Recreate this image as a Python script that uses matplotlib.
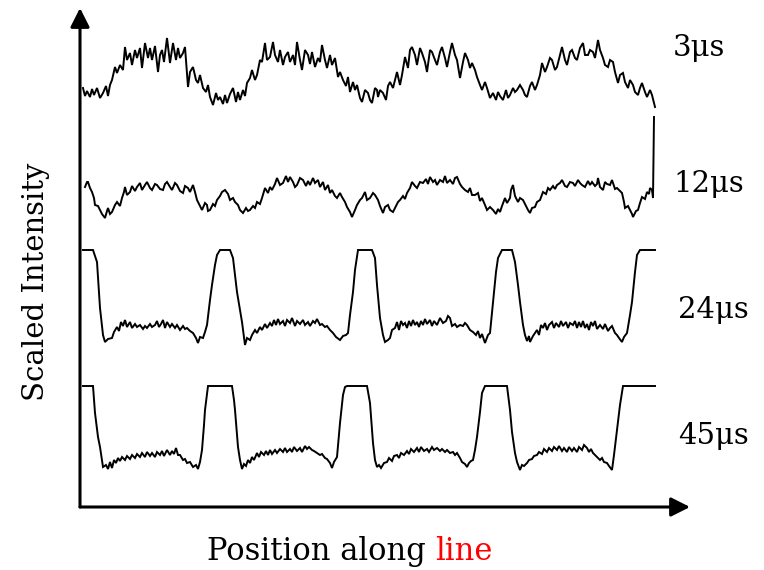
import numpy as np
import matplotlib
matplotlib.use('Agg')
import matplotlib.pyplot as plt
from matplotlib.patches import FancyArrowPatch

# Line profiles for four exposure times.
# position along the line, intensity above each trace's own floor.
labels = ['3μs', '12μs', '24μs', '45μs']

profile_3 = [(83, 22), (85, 14), (87, 19), (90, 13), (92, 21), (94, 15), (97, 22), (100, 12), (103, 17), (106, 24),
             (108, 14), (110, 25), (112, 30), (115, 43), (117, 37), (120, 45), (123, 40), (125, 63), (127, 50), (130, 57),
             (132, 45), (135, 60), (137, 52), (140, 62), (142, 42), (145, 67), (148, 52), (150, 62), (152, 50), (155, 64),
             (158, 38), (160, 55), (162, 60), (164, 48), (167, 72), (170, 47), (173, 67), (176, 50), (178, 62), (180, 52),
             (183, 57), (185, 63), (188, 23), (190, 38), (193, 43), (196, 30), (198, 27), (200, 35), (203, 22), (206, 18),
             (208, 25), (210, 13), (213, 5), (216, 17), (218, 10), (220, 13), (223, 6), (225, 15), (227, 7), (230, 16),
             (233, 22), (236, 8), (238, 18), (240, 10), (243, 20), (245, 14), (247, 27), (250, 32), (252, 40), (255, 30),
             (257, 35), (260, 50), (262, 48), (265, 67), (267, 50), (270, 53), (273, 68), (275, 55), (278, 48), (280, 60),
             (283, 45), (285, 53), (288, 58), (290, 48), (293, 55), (295, 45), (297, 68), (300, 50), (302, 40), (305, 60),
             (308, 55), (310, 46), (312, 58), (315, 43), (318, 52), (320, 48), (322, 65), (325, 50), (327, 42), (330, 55),
             (332, 45), (335, 52), (338, 33), (340, 38), (343, 30), (346, 24), (348, 33), (350, 18), (353, 28), (355, 20),
             (357, 25), (360, 12), (362, 8), (365, 20), (368, 17), (370, 10), (372, 7), (375, 22), (377, 20), (378, 13),
             (380, 20), (383, 17), (386, 10), (388, 24), (390, 28), (393, 22), (395, 30), (397, 38), (400, 25), (402, 35),
             (405, 53), (408, 42), (410, 60), (412, 63), (415, 55), (417, 45), (420, 62), (422, 57), (425, 48), (427, 38),
             (430, 60), (432, 58), (435, 50), (437, 45), (440, 58), (442, 63), (445, 52), (447, 43), (450, 58), (452, 67),
             (455, 55), (457, 50), (460, 32), (463, 48), (465, 57), (468, 50), (470, 42), (472, 47), (475, 40), (477, 33),
             (480, 25), (482, 20), (485, 28), (487, 22), (490, 12), (493, 17), (496, 10), (498, 18), (500, 14), (503, 10),
             (506, 20), (508, 12), (510, 15), (513, 22), (515, 18), (517, 20), (520, 25), (523, 20), (525, 15), (527, 13),
             (530, 24), (532, 28), (535, 20), (537, 25), (540, 35), (542, 47), (545, 38), (547, 43), (550, 52), (552, 50),
             (555, 40), (557, 43), (560, 55), (562, 63), (565, 50), (567, 45), (570, 58), (572, 60), (575, 52), (577, 50),
             (580, 62), (583, 67), (585, 55), (588, 55), (590, 60), (593, 58), (595, 52), (598, 70), (600, 60), (603, 52),
             (605, 45), (608, 43), (610, 50), (613, 48), (615, 38), (618, 27), (620, 35), (623, 37), (625, 28), (628, 22),
             (630, 30), (633, 25), (635, 18), (638, 15), (640, 22), (642, 27), (645, 18), (647, 13), (650, 20), (652, 15),
             (655, 3)]

profile_12 = [(85, 33), (87, 38), (88, 38), (90, 32), (92, 28), (94, 22), (95, 15), (98, 14), (100, 10), (102, 6),
              (105, 2), (107, 9), (108, 12), (110, 6), (112, 8), (115, 15), (117, 18), (120, 14), (122, 22), (124, 28),
              (125, 33), (127, 25), (130, 28), (132, 34), (135, 29), (137, 33), (140, 37), (142, 30), (145, 35), (147, 38),
              (150, 32), (152, 30), (155, 36), (157, 35), (160, 31), (163, 30), (165, 36), (167, 38), (170, 33), (172, 30),
              (175, 37), (177, 35), (180, 29), (183, 27), (185, 34), (188, 32), (190, 28), (193, 35), (195, 28), (197, 20),
              (200, 14), (202, 10), (205, 17), (207, 15), (208, 9), (210, 10), (213, 16), (215, 14), (217, 20), (220, 24),
              (222, 28), (225, 30), (228, 26), (230, 20), (233, 22), (235, 18), (238, 15), (240, 10), (243, 7), (246, 12),
              (248, 9), (250, 10), (253, 14), (255, 12), (257, 18), (260, 16), (262, 22), (265, 32), (268, 27), (270, 33),
              (272, 30), (275, 36), (277, 42), (280, 35), (283, 37), (286, 44), (288, 38), (290, 43), (293, 38), (295, 33),
              (297, 35), (300, 42), (303, 40), (306, 34), (308, 39), (310, 35), (313, 42), (315, 37), (318, 40), (320, 33),
              (323, 38), (325, 30), (328, 35), (330, 27), (332, 30), (335, 24), (337, 22), (340, 27), (342, 23), (345, 18),
              (347, 13), (350, 8), (352, 3), (355, 10), (357, 15), (360, 20), (362, 22), (365, 28), (367, 20), (370, 22),
              (373, 27), (375, 25), (378, 20), (380, 14), (383, 7), (385, 13), (388, 15), (390, 10), (393, 8), (396, 14),
              (398, 18), (400, 20), (403, 24), (405, 21), (407, 27), (410, 32), (412, 38), (415, 34), (417, 32), (420, 38),
              (423, 37), (426, 41), (428, 36), (430, 43), (433, 38), (435, 40), (437, 35), (440, 40), (443, 38), (445, 44),
              (447, 37), (450, 40), (453, 36), (455, 42), (457, 43), (460, 36), (462, 33), (465, 30), (468, 28), (470, 32),
              (472, 25), (475, 25), (478, 27), (480, 19), (482, 22), (485, 15), (487, 10), (490, 13), (493, 10), (496, 6),
              (498, 11), (500, 8), (502, 14), (505, 22), (507, 17), (510, 22), (511, 30), (513, 35), (515, 24), (518, 18),
              (520, 22), (523, 20), (526, 14), (528, 10), (530, 7), (532, 12), (535, 13), (537, 18), (540, 20), (543, 28),
              (546, 26), (548, 32), (550, 30), (553, 34), (555, 31), (557, 35), (560, 37), (562, 40), (565, 34), (567, 33),
              (570, 38), (573, 37), (575, 34), (578, 40), (580, 37), (582, 35), (585, 33), (588, 39), (590, 35), (592, 38),
              (595, 34), (597, 36), (598, 42), (600, 33), (603, 30), (605, 38), (607, 36), (610, 35), (612, 40), (615, 31),
              (617, 32), (620, 29), (622, 27), (624, 18), (625, 12), (628, 14), (630, 10), (632, 6), (633, 3), (636, 9),
              (638, 10), (640, 17), (642, 23), (645, 21), (647, 28), (649, 26), (650, 32), (652, 30), (653, 22), (654, 103)]

pos_24 = [83, 93, 97, 100, 103, 105, 108, 112, 114, 117, 119, 121, 123, 125, 127, 130, 132, 135, 137, 140,
          143, 145, 147, 150, 152, 155, 157, 159, 161, 163, 165, 167, 170, 172, 175, 177, 180, 183, 185, 187,
          190, 193, 196, 198, 200, 203, 205, 207, 210, 212, 215, 217, 220, 230, 233, 237, 240, 242, 245, 247,
          250, 252, 255, 257, 260, 262, 265, 267, 270, 272, 274, 276, 278, 280, 283, 285, 287, 290, 292, 295,
          297, 300, 303, 305, 308, 310, 313, 315, 317, 320, 322, 325, 327, 330, 333, 336, 340, 343, 346, 348,
          350, 353, 355, 358, 372, 375, 377, 380, 383, 385, 388, 390, 392, 395, 397, 399, 401, 403, 405, 407,
          409, 411, 413, 415, 417, 419, 421, 423, 425, 427, 430, 432, 434, 437, 440, 443, 446, 448, 450, 452,
          455, 457, 460, 463, 465, 467, 470, 473, 476, 478, 480, 482, 485, 488, 490, 493, 496, 498, 502, 512,
          515, 518, 520, 523, 525, 527, 529, 530, 533, 535, 537, 539, 541, 543, 545, 547, 549, 552, 554, 556,
          559, 561, 563, 566, 568, 570, 573, 575, 577, 579, 581, 583, 585, 587, 589, 591, 593, 595, 597, 600,
          603, 605, 608, 610, 612, 615, 617, 619, 622, 624, 627, 630, 632, 635, 637, 640, 655]
int_24 = [95, 95, 83, 37, 10, 3, 6, 7, 13, 18, 14, 23, 19, 25, 18, 23, 17, 21, 18, 20,
          16, 19, 17, 21, 18, 20, 24, 18, 21, 25, 17, 23, 18, 21, 17, 20, 15, 19, 16, 17,
          14, 12, 7, 2, 8, 7, 13, 20, 45, 60, 80, 90, 95, 95, 87, 53, 35, 23, 0, 7,
          5, 10, 15, 12, 18, 15, 21, 17, 22, 19, 25, 20, 26, 21, 24, 19, 25, 22, 27, 19,
          24, 21, 25, 20, 23, 19, 24, 22, 26, 20, 21, 18, 19, 15, 12, 8, 5, 9, 10, 12,
          30, 53, 75, 95, 95, 87, 60, 27, 10, 3, 5, 7, 15, 17, 23, 15, 24, 20, 22, 17,
          24, 19, 25, 20, 23, 18, 24, 20, 26, 21, 25, 19, 24, 20, 27, 22, 24, 29, 27, 19,
          21, 18, 20, 19, 22, 20, 15, 13, 10, 14, 7, 11, 2, 10, 12, 43, 73, 87, 95, 95,
          83, 60, 43, 20, 10, 4, 9, 3, 9, 12, 15, 10, 20, 17, 22, 15, 20, 23, 17, 22,
          18, 24, 19, 23, 17, 22, 20, 24, 17, 23, 18, 24, 17, 21, 15, 23, 19, 24, 16, 20,
          16, 21, 14, 17, 19, 12, 10, 7, 3, 8, 12, 30, 43, 73, 90, 95, 95]

pos_45 = [83, 93, 95, 98, 100, 102, 103, 106, 108, 110, 112, 114, 116, 118, 120, 122, 125, 127, 130, 132,
          135, 137, 140, 142, 145, 147, 150, 152, 155, 157, 160, 162, 164, 167, 170, 172, 174, 176, 178, 180,
          183, 185, 187, 190, 193, 196, 198, 200, 202, 204, 205, 208, 232, 234, 235, 238, 240, 242, 244, 246,
          248, 250, 252, 254, 257, 259, 261, 264, 266, 268, 270, 272, 275, 277, 280, 283, 285, 287, 290, 292,
          294, 297, 300, 302, 305, 307, 309, 312, 314, 317, 320, 322, 325, 327, 330, 332, 334, 337, 340, 343,
          345, 347, 367, 370, 372, 373, 375, 377, 379, 381, 384, 387, 389, 392, 394, 397, 399, 401, 404, 407,
          409, 411, 414, 417, 419, 421, 424, 427, 429, 432, 434, 437, 440, 442, 445, 447, 450, 453, 455, 457,
          460, 462, 465, 467, 469, 471, 473, 475, 477, 480, 482, 485, 507, 510, 512, 515, 517, 520, 522, 524,
          527, 529, 532, 534, 537, 539, 542, 544, 547, 549, 552, 554, 557, 559, 562, 564, 567, 569, 572, 574,
          577, 579, 582, 584, 587, 589, 591, 593, 595, 597, 600, 602, 604, 607, 609, 612, 614, 617, 620, 623,
          655]
int_45 = [84, 84, 57, 33, 23, 10, 3, 5, 1, 8, 2, 10, 7, 12, 9, 13, 10, 14, 11, 15,
          12, 16, 13, 17, 13, 18, 14, 17, 13, 18, 15, 19, 14, 20, 15, 19, 16, 22, 15, 15,
          10, 11, 7, 8, 3, 5, 1, 8, 20, 45, 60, 84, 84, 70, 60, 23, 10, 1, 6, 4,
          10, 7, 13, 10, 17, 13, 18, 15, 19, 15, 20, 16, 20, 17, 21, 18, 22, 18, 21, 18,
          23, 19, 22, 18, 24, 21, 23, 20, 19, 17, 15, 16, 12, 11, 7, 2, 8, 13, 47, 75,
          83, 84, 84, 67, 40, 27, 10, 3, 5, 2, 7, 8, 12, 9, 14, 15, 12, 17, 15, 19,
          16, 21, 18, 22, 18, 23, 19, 21, 18, 23, 20, 22, 19, 21, 18, 20, 17, 18, 15, 17,
          12, 8, 6, 3, 7, 9, 10, 20, 33, 58, 77, 84, 84, 60, 38, 17, 8, 0, 5, 4,
          7, 10, 11, 14, 15, 18, 16, 21, 18, 22, 19, 23, 20, 24, 19, 22, 18, 23, 19, 22,
          18, 23, 20, 25, 22, 18, 21, 17, 15, 13, 10, 12, 8, 7, 4, 0, 15, 40, 65, 84,
          84]

pos_3, int_3 = zip(*profile_3)
pos_12, int_12 = zip(*profile_12)
traces = [(pos_3, int_3), (pos_12, int_12), (pos_24, int_24), (pos_45, int_45)]
offsets = [400, 290, 165, 40]

plt.rcParams['font.family'] = ['DejaVu Serif']

fig = plt.figure(figsize=(7.64, 5.70), dpi=100)
ax = fig.add_axes([80 / 764, 60 / 570, 580 / 764, 500 / 570])
for (x, y), off in zip(traces, offsets):
    ax.plot(x, np.array(y) + off, color='black', lw=1.4, solid_joinstyle='miter')
ax.set_xlim(80, 660)
ax.set_ylim(0, 500)
ax.axis('off')

# axis arrows drawn in figure coordinates
W, H = 764, 570
arrow_kw = dict(transform=fig.transFigure, color='black', lw=2.2, shrinkA=0, shrinkB=0,
                arrowstyle='-|>,head_length=11.5,head_width=5.8', mutation_scale=1)
fig.add_artist(FancyArrowPatch((80 / W, 63 / H), (80 / W, 562 / H), **arrow_kw))
fig.add_artist(FancyArrowPatch((80 / W, 63 / H), (690 / W, 63 / H), **arrow_kw))

fig.text(36 / W, 288 / H, 'Scaled Intensity', rotation=90, ha='center', va='center', fontsize=21)

t1 = fig.text(207 / W, 10 / H, 'Position along', ha='left', va='baseline', fontsize=22)
fig.canvas.draw()
bb = t1.get_window_extent()
fig.text((bb.x1 + 9) / W, 10 / H, 'line', ha='left', va='baseline', fontsize=22, color='red')

label_pos = [(673, 56), (673, 192), (678, 318), (678, 444)]
for lab, (lx, ly) in zip(labels, label_pos):
    fig.text(lx / W, (H - ly) / H, lab, ha='left', va='baseline', fontsize=21)

fig.savefig('out.png', dpi=100)
